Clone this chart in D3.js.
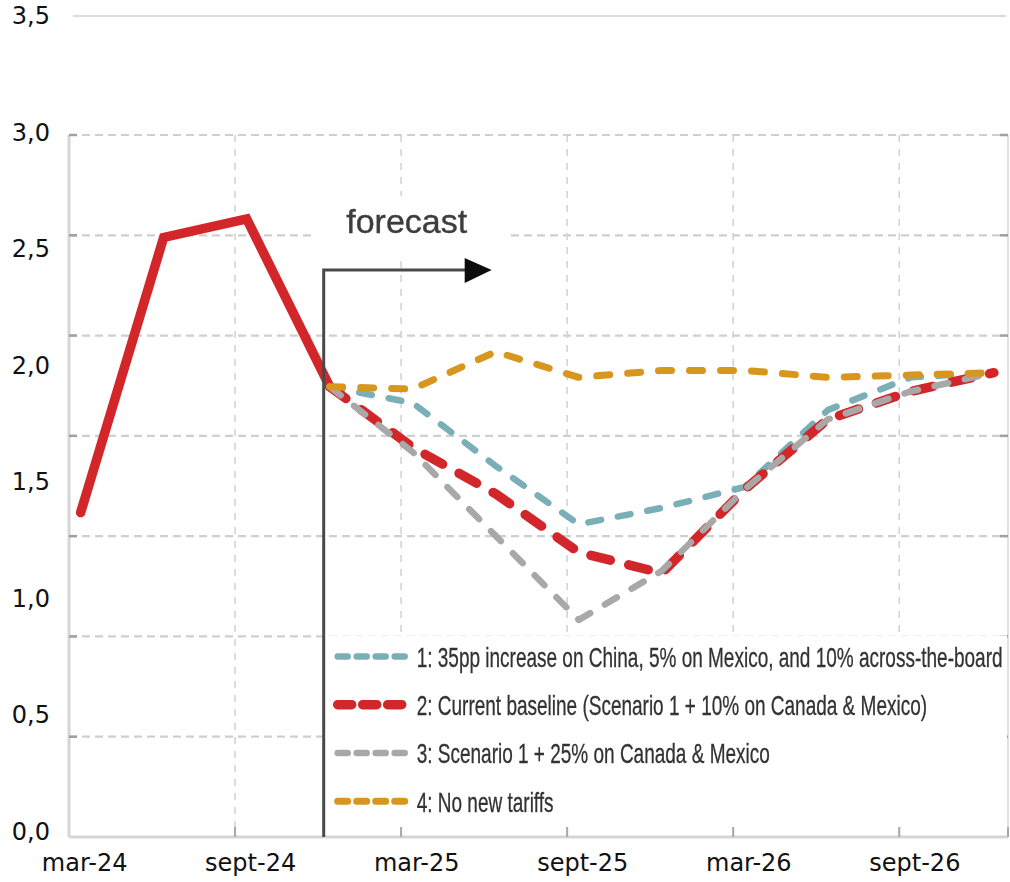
<!DOCTYPE html>
<html>
<head>
<meta charset="utf-8">
<script src="https://cdn.jsdelivr.net/npm/d3@7"></script>
<style>
  html, body { margin: 0; padding: 0; background: #fff; }
  svg { display: block; }
</style>
</head>
<body>
<svg id="chart" width="1010" height="882"></svg>
<script>
// Quarterly observations, actual then four tariff scenarios
const quarters = ["mar-24","jun-24","sept-24","dec-24","mar-25","jun-25","sept-25","dec-25","mar-26","jun-26","sept-26","dec-26"];
const tickLabels = ["mar-24","sept-24","mar-25","sept-25","mar-26","sept-26"];
const yTicks = [0, 0.5, 1, 1.5, 2, 2.5, 3, 3.5];

const actual = [1.37, 2.55, 2.63, 1.91];
const forecastStart = 3; // index of dec-24, where the scenarios branch off
const scenario1 = [1.91, 1.84, 1.57, 1.32, 1.39, 1.48, 1.81, 1.95, 1.97];
const scenario2 = [1.91, 1.65, 1.45, 1.20, 1.11, 1.47, 1.77, 1.89, 1.97];
const scenario3 = [1.91, 1.63, 1.27, 0.91, 1.12, 1.47, 1.77, 1.89, 1.97];
const scenario4 = [1.91, 1.90, 2.06, 1.95, 1.98, 1.98, 1.95, 1.96, 1.97];

const legendLabels = [
  "1: 35pp increase on China, 5% on Mexico, and 10% across-the-board",
  "2: Current baseline (Scenario 1 + 10% on Canada & Mexico)",
  "3: Scenario 1 + 25% on Canada & Mexico",
  "4: No new tariffs"
];

// Styling for each scenario, in legend order
const styles = [
  { data: scenario1, color: "#7aafb7", width: 6.5, dash: "13 17", legendDash: "10 9" },
  { data: scenario2, color: "#d3262a", width: 9.5, dash: "20 19", legendDash: "14 11" },
  { data: scenario3, color: "#a8a8a8", width: 6.5, dash: "14 17", legendDash: "10 9" },
  { data: scenario4, color: "#d8961f", width: 7,   dash: "13 18", legendDash: "10 9" }
];
const drawOrder = [0, 1, 2, 3];

const svg = d3.select("#chart");

// Value axis printed along the left, and the plotting panel's own grid rows
const y = d3.scaleLinear().domain([0, 3.5]).range([832, 16]);
const panelRows = d3.scaleLinear().domain([0, 7]).range([837, 135]);
// Quarter index across the panel
const x = d3.scaleLinear().domain([-0.14, 11.17]).range([69, 1008]);

const panelLeft = x.range()[0], panelRight = x.range()[1];
const panelTop = panelRows(7), panelBottom = panelRows(0);

// Outer value gridlines (only the top one shows above the panel)
svg.append("g")
  .selectAll("line").data(yTicks).join("line")
  .attr("x1", panelLeft + 4).attr("x2", panelRight - 2)
  .attr("y1", d => y(d)).attr("y2", d => y(d))
  .attr("stroke", "#dcdcdc").attr("stroke-width", 2);

// Value labels
svg.append("g")
  .selectAll("text").data(yTicks).join("text")
  .attr("x", 50).attr("y", d => y(d))
  .attr("text-anchor", "end").attr("dominant-baseline", "central")
  .attr("font-family", "DejaVu Sans, Verdana, sans-serif").attr("font-size", 24)
  .attr("fill", "#111")
  .text(d => d3.format(".1f")(d).replace(".", ","));

// Soft rendering for the panel
const defs = svg.append("defs");
defs.append("filter").attr("id", "soft").attr("x", "-5%").attr("y", "-5%").attr("width", "110%").attr("height", "110%")
  .append("feGaussianBlur").attr("stdDeviation", 0.75);

const panel = svg.append("g").attr("filter", "url(#soft)");

panel.append("rect")
  .attr("x", panelLeft - 6).attr("y", panelTop - 8)
  .attr("width", panelRight - panelLeft + 8).attr("height", panelBottom - panelTop + 10)
  .attr("fill", "#fff");

// Horizontal dashed grid
const rows = d3.range(1, 8);
panel.append("g").selectAll("line").data(rows).join("line")
  .attr("x1", panelLeft).attr("x2", panelRight)
  .attr("y1", d => panelRows(d)).attr("y2", d => panelRows(d))
  .attr("stroke", "#cfcfcf").attr("stroke-width", 2.2).attr("stroke-dasharray", "8 5");

// Vertical dashed grid every two quarters
const cols = d3.range(1, 6).map(k => x.domain()[0] + 2 * k);
panel.append("g").selectAll("line").data(cols).join("line")
  .attr("x1", d => x(d)).attr("x2", d => x(d))
  .attr("y1", panelTop).attr("y2", panelBottom)
  .attr("stroke", "#d4d4d4").attr("stroke-width", 1.6).attr("stroke-dasharray", "7 7");

// Frame and ticks
panel.append("line").attr("x1", panelLeft).attr("x2", panelLeft).attr("y1", panelTop).attr("y2", panelBottom)
  .attr("stroke", "#d6d6d6").attr("stroke-width", 3);
panel.append("line").attr("x1", panelRight).attr("x2", panelRight).attr("y1", panelTop).attr("y2", panelBottom)
  .attr("stroke", "#e2e2e2").attr("stroke-width", 2);
panel.append("line").attr("x1", panelLeft).attr("x2", panelRight).attr("y1", panelBottom).attr("y2", panelBottom)
  .attr("stroke", "#d6d6d6").attr("stroke-width", 3);
panel.append("g").selectAll("line").data(rows).join("line")
  .attr("x1", panelLeft).attr("x2", panelLeft + 8)
  .attr("y1", d => panelRows(d)).attr("y2", d => panelRows(d))
  .attr("stroke", "#a0a0a0").attr("stroke-width", 2.5);
panel.append("g").selectAll("line").data(rows).join("line")
  .attr("x1", panelRight - 8).attr("x2", panelRight)
  .attr("y1", d => panelRows(d)).attr("y2", d => panelRows(d))
  .attr("stroke", "#a0a0a0").attr("stroke-width", 2.5);
panel.append("g").selectAll("line").data(cols.concat([x.domain()[1]])).join("line")
  .attr("x1", d => x(d)).attr("x2", d => x(d))
  .attr("y1", panelBottom - 10).attr("y2", panelBottom)
  .attr("stroke", "#a8a8a8").attr("stroke-width", 2);

// "forecast" label with its white backing
const forecastX = x(forecastStart) - 6;
const fcText = panel.append("text")
  .attr("x", forecastX + 83).attr("y", 233)
  .attr("text-anchor", "middle")
  .attr("font-family", "Liberation Sans, Arial, sans-serif").attr("font-size", 34)
  .attr("fill", "#3d3d3d").attr("stroke", "#3d3d3d").attr("stroke-width", 0.4)
  .text("forecast");
const fb = fcText.node().getBBox();
panel.insert("rect", () => fcText.node())
  .attr("x", fb.x - 33).attr("y", fb.y - 6)
  .attr("width", fb.width + 73).attr("height", fb.height + 24)
  .attr("fill", "#fff");

// Lines
const lineGen = d3.line().x(d => x(d.i)).y(d => y(d.v));

panel.append("path")
  .datum(actual.map((v, i) => ({ i, v })))
  .attr("d", lineGen)
  .attr("fill", "none").attr("stroke", "#d3262a").attr("stroke-width", 9.5)
  .attr("stroke-linejoin", "miter").attr("stroke-linecap", "round");

drawOrder.forEach(k => {
  const s = styles[k];
  panel.append("path")
    .datum(s.data.map((v, j) => ({ i: forecastStart + j, v })))
    .attr("d", lineGen)
    .attr("fill", "none").attr("stroke", s.color).attr("stroke-width", s.width)
    .attr("stroke-dasharray", s.dash).attr("stroke-linecap", "round").attr("stroke-linejoin", "round");
});

// Forecast arrow
const arrowY = 270;
panel.append("path")
  .attr("d", `M${forecastX},${panelBottom} V${arrowY} H${forecastX + 142}`)
  .attr("fill", "none").attr("stroke", "#4a4a4a").attr("stroke-width", 3);
panel.append("path")
  .attr("d", `M${forecastX + 141},${arrowY - 12} L${forecastX + 168},${arrowY} L${forecastX + 141},${arrowY + 13} Z`)
  .attr("fill", "#111");

// Legend
const legTop = panelRows(2) - 1, legBottom = panelBottom - 10;
panel.append("rect")
  .attr("x", forecastX + 3).attr("y", legTop)
  .attr("width", panelRight - forecastX - 4).attr("height", legBottom - legTop)
  .attr("fill", "#fff");

const legX = forecastX + 14, legStep = 48.3, legY0 = legTop + 21;
const leg = panel.append("g");
const items = leg.selectAll("g").data(styles).join("g")
  .attr("transform", (d, k) => `translate(0,${legY0 + k * legStep})`);
items.append("line")
  .attr("x1", legX).attr("x2", legX + 70)
  .attr("stroke", d => d.color).attr("stroke-width", d => d.width)
  .attr("stroke-dasharray", d => d.legendDash).attr("stroke-linecap", "round");
const labels = items.append("text")
  .attr("x", 0).attr("y", 0)
  .attr("dominant-baseline", "central")
  .attr("font-family", "Liberation Sans Narrow, Liberation Sans, Arial, sans-serif")
  .attr("font-size", 27).attr("fill", "#333").attr("stroke", "#333").attr("stroke-width", 0.3)
  .text((d, k) => legendLabels[k]);
// Condense legend text so the longest entry runs to the panel's right edge
const longest = d3.max(labels.nodes(), n => n.getComputedTextLength());
const squeeze = (panelRight - 5 - (legX + 79)) / longest;
labels.attr("transform", `translate(${legX + 79},1) scale(${squeeze},1)`);

// Date labels along the bottom
svg.append("g")
  .selectAll("text").data(tickLabels).join("text")
  .attr("x", d => x(quarters.indexOf(d)) + 4).attr("y", 871)
  .attr("text-anchor", "middle")
  .attr("font-family", "DejaVu Sans, Verdana, sans-serif").attr("font-size", 24)
  .attr("fill", "#111")
  .text(d => d);
</script>
</body>
</html>
